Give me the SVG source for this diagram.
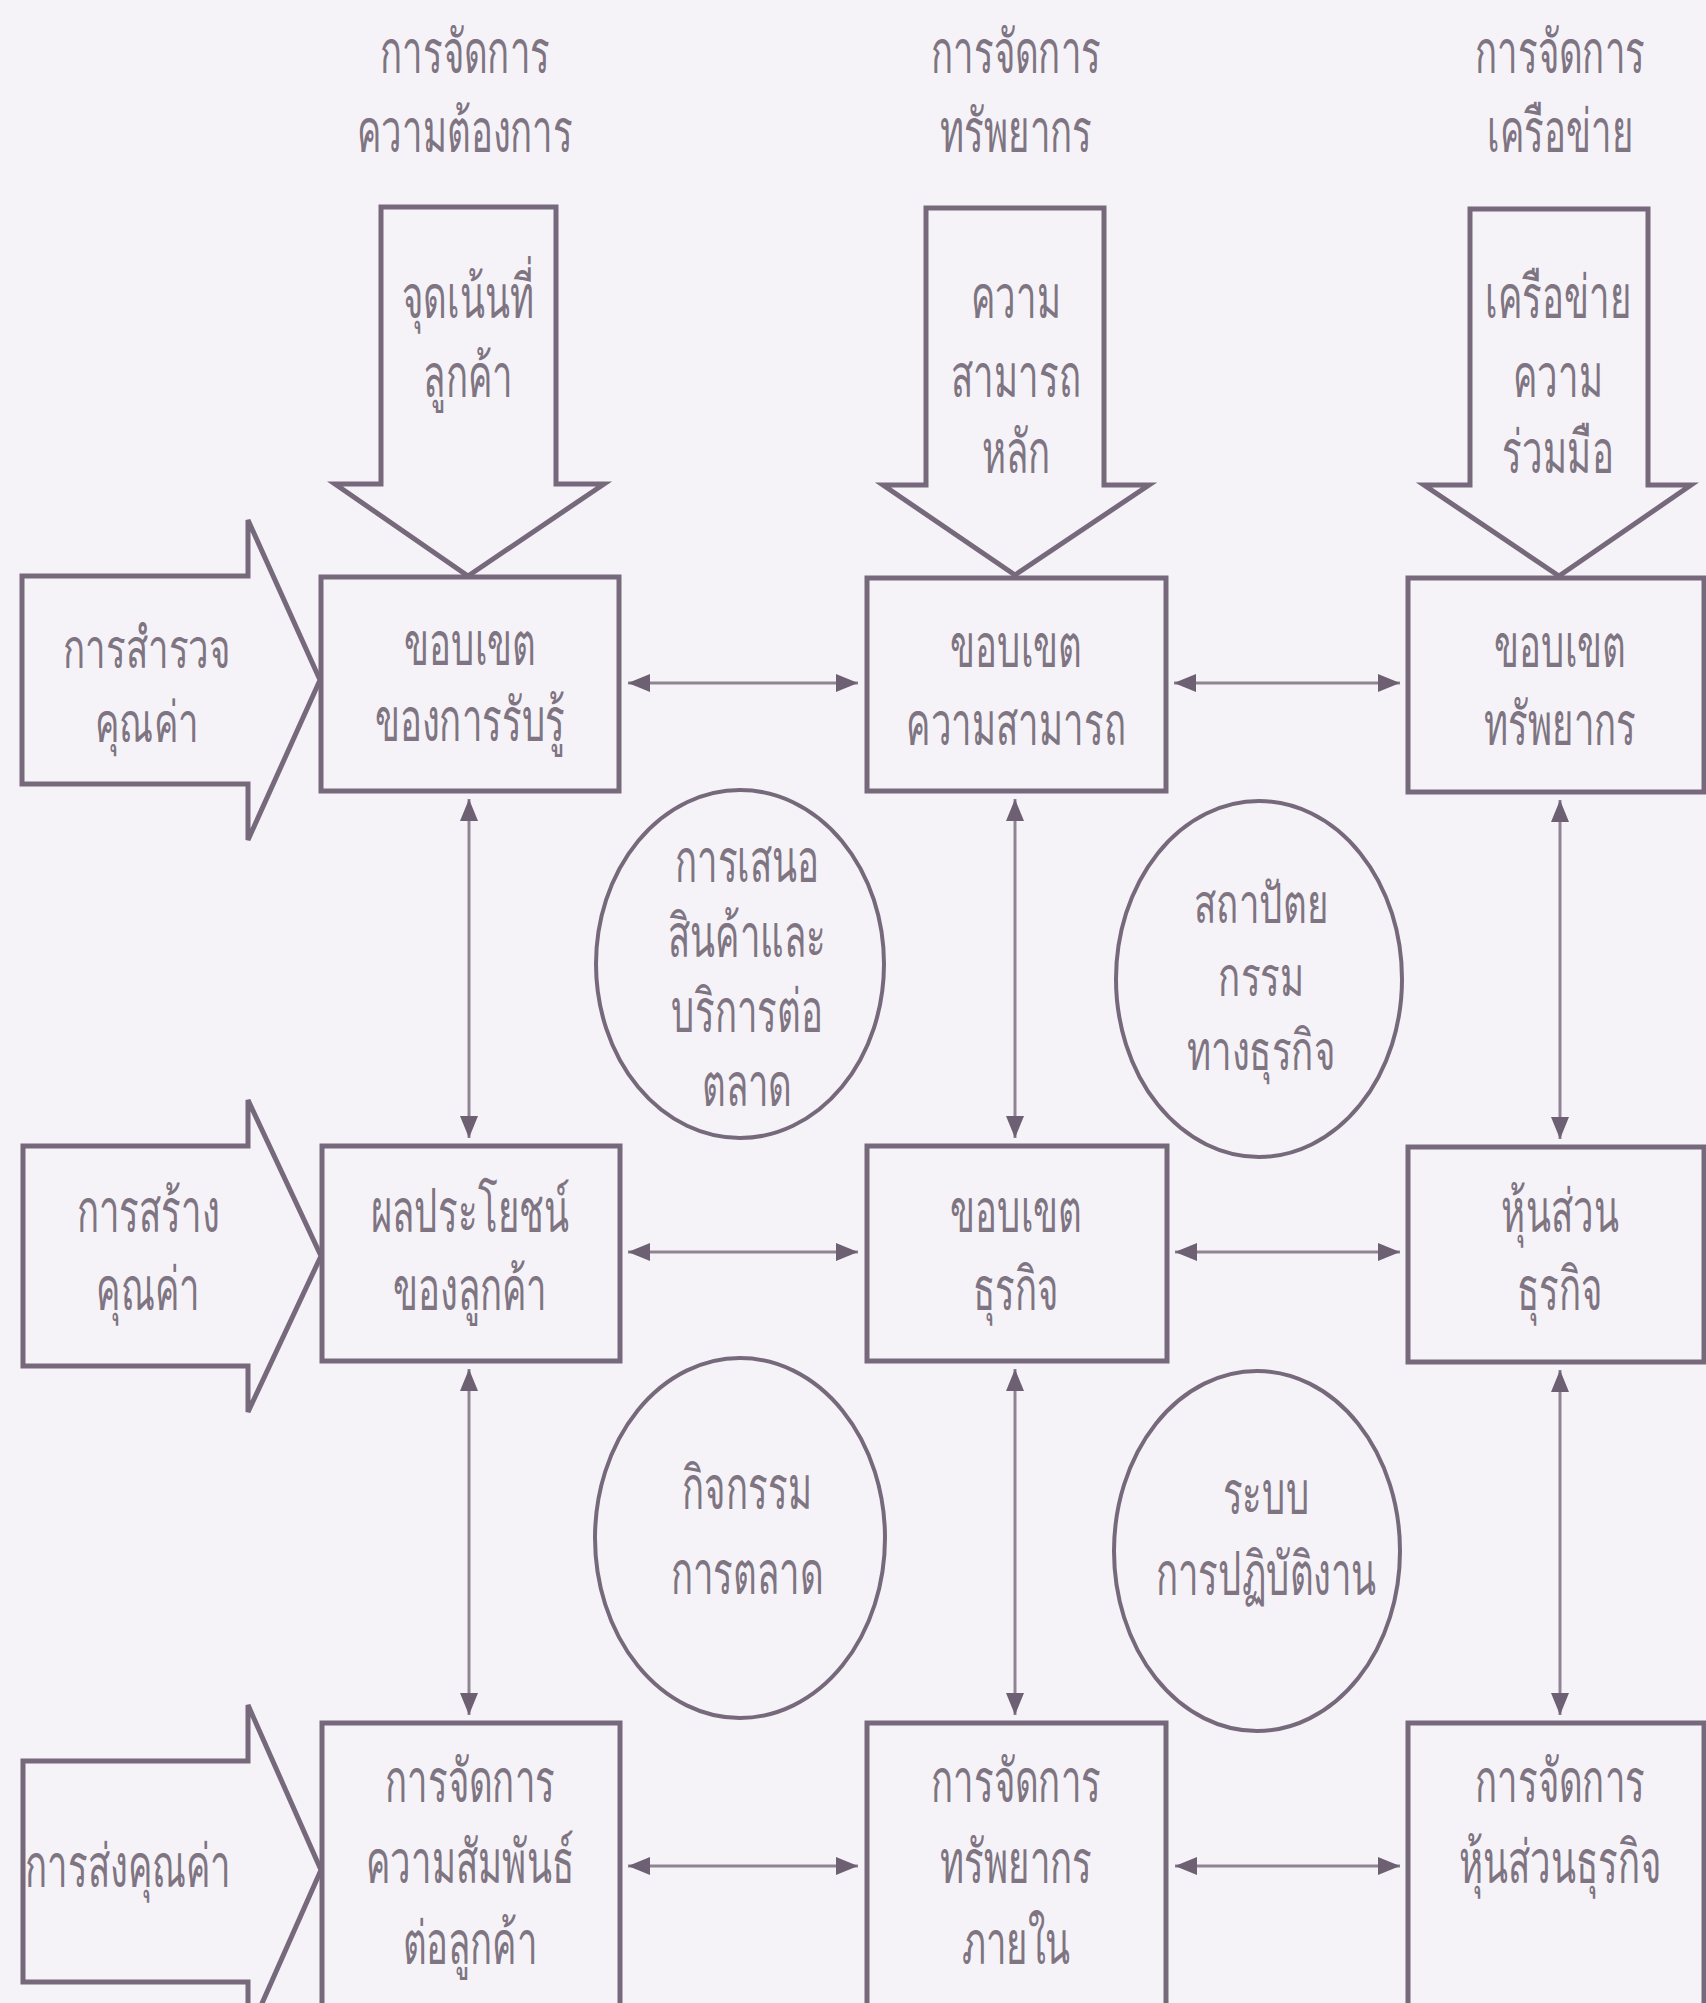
<svg xmlns="http://www.w3.org/2000/svg" width="1706" height="2003" viewBox="0 0 1706 2003">
<style>
.bg{fill:#f6f3f8}
.shape{fill:none;stroke:#76697b;stroke-width:5;stroke-linejoin:miter}
.ell{fill:none;stroke:#76697b;stroke-width:4}
.con{fill:none;stroke:#8f8494;stroke-width:3;marker-start:url(#ah);marker-end:url(#ah)}
text{font-family:"Noto Sans","DejaVu Sans",sans-serif;font-size:60px;fill:#7f7582;text-anchor:middle}
text.sm{font-size:56px}
</style>
<defs>
<marker id="ah" viewBox="-24 -11 26 22" markerWidth="26" markerHeight="22" refX="0" refY="0" orient="auto-start-reverse" markerUnits="userSpaceOnUse">
<path d="M0,0 L-22,-9 L-22,9 Z" fill="#6e6073"/>
</marker>
</defs>
<rect class="bg" x="0" y="0" width="1706" height="2003"/>

<g id="titles">
<text transform="translate(465,73) scale(0.61,1)">การจัดการ</text>
<text transform="translate(465,152) scale(0.61,1)">ความต้องการ</text>
<text transform="translate(1016,73) scale(0.61,1)">การจัดการ</text>
<text transform="translate(1016,152) scale(0.61,1)">ทรัพยากร</text>
<text transform="translate(1560,73) scale(0.61,1)">การจัดการ</text>
<text transform="translate(1560,152) scale(0.61,1)">เครือข่าย</text>
</g>

<g id="down1">
<polygon class="shape" points="381,207 556,207 556,484 604,484 468,576 335,484 381,484"/>
<text transform="translate(468,318) scale(0.61,1)">จุดเน้นที่</text>
<text transform="translate(468,397) scale(0.61,1)">ลูกค้า</text>
</g>
<g id="down2">
<polygon class="shape" points="926,208 1104,208 1104,485 1149,485 1015,575 883,485 926,485"/>
<text transform="translate(1016,318) scale(0.61,1)">ความ</text>
<text transform="translate(1016,397) scale(0.61,1)">สามารถ</text>
<text transform="translate(1016,473) scale(0.61,1)">หลัก</text>
</g>
<g id="down3">
<polygon class="shape" points="1470,209 1648,209 1648,485 1691,485 1559,576 1424,485 1470,485"/>
<text transform="translate(1558,318) scale(0.61,1)">เครือข่าย</text>
<text transform="translate(1558,397) scale(0.61,1)">ความ</text>
<text transform="translate(1558,473) scale(0.61,1)">ร่วมมือ</text>
</g>

<g id="left1">
<polygon class="shape" points="22,576 248,576 248,520 320,680 248,840 248,784 22,784"/>
<text class="sm" transform="translate(147,668) scale(0.655,1)">การสำรวจ</text>
<text class="sm" transform="translate(147,742) scale(0.655,1)">คุณค่า</text>
</g>
<g id="left2">
<polygon class="shape" points="23,1146 248,1146 248,1100 321,1256 248,1412 248,1366 23,1366"/>
<text transform="translate(148,1232) scale(0.61,1)">การสร้าง</text>
<text transform="translate(148,1310) scale(0.61,1)">คุณค่า</text>
</g>
<g id="left3">
<polygon class="shape" points="23,1761 248,1761 248,1705 321,1870 248,2035 248,1982 23,1982"/>
<text transform="translate(128,1887) scale(0.61,1)">การส่งคุณค่า</text>
</g>

<g id="b11">
<rect class="shape" x="321" y="577" width="298" height="214"/>
<text transform="translate(470,665) scale(0.61,1)">ขอบเขต</text>
<text transform="translate(470,741) scale(0.61,1)">ของการรับรู้</text>
</g>
<g id="b12">
<rect class="shape" x="867" y="578" width="299" height="213"/>
<text transform="translate(1016,667) scale(0.61,1)">ขอบเขต</text>
<text transform="translate(1016,745) scale(0.61,1)">ความสามารถ</text>
</g>
<g id="b13">
<rect class="shape" x="1408" y="578" width="296" height="214"/>
<text transform="translate(1560,667) scale(0.61,1)">ขอบเขต</text>
<text transform="translate(1560,745) scale(0.61,1)">ทรัพยากร</text>
</g>

<g id="b21">
<rect class="shape" x="322" y="1146" width="298" height="215"/>
<text transform="translate(470,1232) scale(0.61,1)">ผลประโยชน์</text>
<text transform="translate(470,1310) scale(0.61,1)">ของลูกค้า</text>
</g>
<g id="b22">
<rect class="shape" x="867" y="1146" width="300" height="215"/>
<text transform="translate(1016,1232) scale(0.61,1)">ขอบเขต</text>
<text transform="translate(1016,1310) scale(0.61,1)">ธุรกิจ</text>
</g>
<g id="b23">
<rect class="shape" x="1408" y="1147" width="296" height="215"/>
<text transform="translate(1560,1232) scale(0.61,1)">หุ้นส่วน</text>
<text transform="translate(1560,1310) scale(0.61,1)">ธุรกิจ</text>
</g>

<g id="b31">
<rect class="shape" x="322" y="1723" width="298" height="300"/>
<text transform="translate(470,1802) scale(0.61,1)">การจัดการ</text>
<text transform="translate(470,1883) scale(0.61,1)">ความสัมพันธ์</text>
<text transform="translate(470,1964) scale(0.61,1)">ต่อลูกค้า</text>
</g>
<g id="b32">
<rect class="shape" x="867" y="1723" width="299" height="300"/>
<text transform="translate(1016,1802) scale(0.61,1)">การจัดการ</text>
<text transform="translate(1016,1883) scale(0.61,1)">ทรัพยากร</text>
<text transform="translate(1016,1964) scale(0.61,1)">ภายใน</text>
</g>
<g id="b33">
<rect class="shape" x="1408" y="1723" width="296" height="300"/>
<text transform="translate(1560,1802) scale(0.61,1)">การจัดการ</text>
<text transform="translate(1560,1883) scale(0.61,1)">หุ้นส่วนธุรกิจ</text>
</g>

<g id="c1">
<ellipse class="ell" cx="740" cy="964" rx="144" ry="174"/>
<text transform="translate(747,882) scale(0.61,1)">การเสนอ</text>
<text transform="translate(747,957) scale(0.61,1)">สินค้าและ</text>
<text transform="translate(747,1032) scale(0.61,1)">บริการต่อ</text>
<text transform="translate(747,1106) scale(0.61,1)">ตลาด</text>
</g>
<g id="c2">
<ellipse class="ell" cx="1259" cy="979" rx="143" ry="178"/>
<text class="sm" transform="translate(1261,923) scale(0.655,1)">สถาปัตย</text>
<text class="sm" transform="translate(1261,996) scale(0.655,1)">กรรม</text>
<text class="sm" transform="translate(1261,1070) scale(0.655,1)">ทางธุรกิจ</text>
</g>
<g id="c3">
<ellipse class="ell" cx="740" cy="1538" rx="145" ry="180"/>
<text transform="translate(747,1509) scale(0.61,1)">กิจกรรม</text>
<text transform="translate(747,1594) scale(0.61,1)">การตลาด</text>
</g>
<g id="c4">
<ellipse class="ell" cx="1257" cy="1551" rx="143" ry="180"/>
<text transform="translate(1266,1514) scale(0.61,1)">ระบบ</text>
<text transform="translate(1266,1595) scale(0.61,1)">การปฏิบัติงาน</text>
</g>

<g id="connectors">
<line class="con" x1="628" y1="683" x2="858" y2="683"/>
<line class="con" x1="1174" y1="683" x2="1400" y2="683"/>
<line class="con" x1="628" y1="1252" x2="858" y2="1252"/>
<line class="con" x1="1175" y1="1252" x2="1400" y2="1252"/>
<line class="con" x1="628" y1="1866" x2="858" y2="1866"/>
<line class="con" x1="1175" y1="1866" x2="1400" y2="1866"/>
<line class="con" x1="469" y1="799" x2="469" y2="1138"/>
<line class="con" x1="469" y1="1369" x2="469" y2="1715"/>
<line class="con" x1="1015" y1="799" x2="1015" y2="1138"/>
<line class="con" x1="1015" y1="1369" x2="1015" y2="1715"/>
<line class="con" x1="1560" y1="800" x2="1560" y2="1139"/>
<line class="con" x1="1560" y1="1370" x2="1560" y2="1715"/>
</g>
</svg>
